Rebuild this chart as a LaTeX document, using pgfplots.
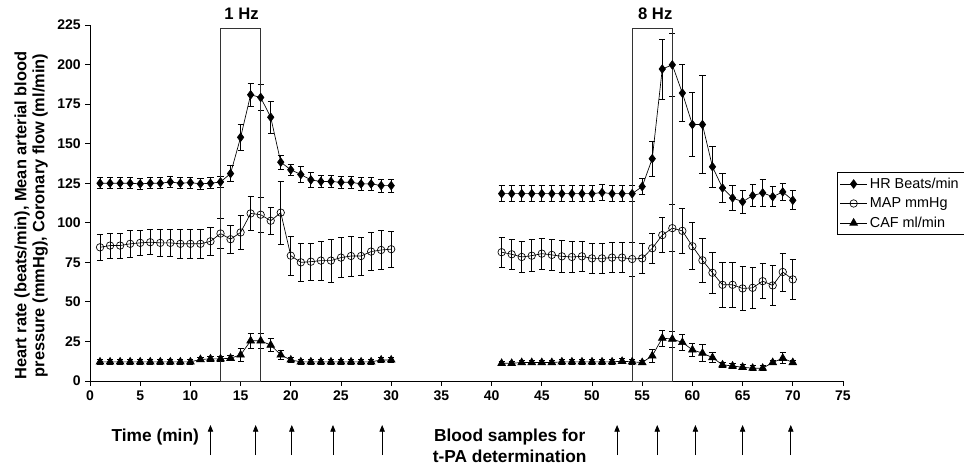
\documentclass[border=0pt]{standalone}
\usepackage{fontspec}
\setmainfont{Liberation Sans}
\usepackage{pgfplots}
\usepackage{pgfplotstable}
\pgfplotsset{compat=1.18}
\usetikzlibrary{arrows.meta}

% x, HR (beats/min), MAP (mmHg), CAF (ml/min), each with its error
\pgfplotstableread{
x  hr    hre  map   mape caf  cafe
1  125.0 3.5  84.5  8.3  12.1 1.5
2  125.0 3.5  85.6  8.0  12.1 1.5
3  125.0 3.5  85.6  8.0  12.1 1.5
4  125.0 3.5  86.7  8.5  12.1 1.5
5  124.6 3.5  87.3  8.0  12.1 1.5
6  125.0 3.5  87.7  8.0  12.1 1.5
7  125.0 3.5  87.3  8.3  12.1 1.5
8  125.8 3.5  87.3  8.8  12.1 1.5
9  125.0 3.5  86.7  9.0  12.1 1.5
10 125.4 3.5  86.7  9.0  12.1 1.5
11 124.6 3.5  86.7  9.0  13.6 1.5
12 125.0 3.5  88.3  8.7  14.0 1.5
13 125.8 3.7  93.2  9.6  14.0 1.5
14 131.1 5.0  89.6  8.8  14.4 1.5
15 154.0 8.0  93.9  11.0 16.5 4.0
16 180.9 7.5  105.9 11.0 25.4 5.0
17 179.2 8.0  105.1 11.0 25.4 5.0
18 166.7 10.0 101.3 8.5  22.7 4.0
19 138.3 4.5  106.4 20.0 16.5 3.0
20 133.5 3.7  79.2  12.5 13.3 1.5
21 130.5 5.0  75.0  12.0 12.1 1.5
22 127.1 5.0  75.4  11.8 12.1 1.5
23 126.1 4.0  76.1  12.3 12.1 1.5
24 126.1 4.0  76.1  13.5 12.1 1.5
25 125.6 4.0  78.0  12.6 12.1 1.5
26 125.6 4.0  79.0  12.7 12.1 1.5
27 124.6 4.0  79.0  12.0 12.1 1.5
28 124.6 4.0  81.8  11.9 12.1 1.5
29 123.5 4.0  82.8  12.5 13.3 1.5
30 123.5 4.0  83.3  11.5 13.3 1.5
35 nan   nan  nan   nan  nan  nan
41 118.4 5.0  81.4  9.3  11.2 1.5
42 118.4 5.0  80.1  9.7  11.2 1.5
43 118.4 5.0  78.4  10.0 11.7 1.5
44 118.4 5.0  79.2  10.0 11.7 1.5
45 118.4 5.0  80.5  9.9  11.7 1.5
46 118.4 5.0  79.7  10.0 11.7 1.5
47 118.4 5.0  78.8  10.0 12.1 1.5
48 118.4 5.0  78.4  10.0 12.1 1.5
49 118.4 5.0  78.8  9.6  12.1 1.5
50 118.4 5.0  77.5  9.6  12.1 1.5
51 119.1 5.0  77.5  9.6  12.1 1.5
52 118.4 5.0  78.0  9.6  12.1 1.5
53 118.4 5.0  78.0  9.6  12.5 1.5
54 118.4 5.0  77.1  10.7 12.1 1.5
55 122.9 5.0  77.5  9.7  11.7 1.5
56 140.5 11.0 83.9  9.4  15.9 4.0
57 197.2 19.0 92.2  11.0 27.1 5.0
58 199.8 20.0 96.6  15.0 26.5 5.0
59 182.0 18.0 94.9  14.5 24.4 5.0
60 162.1 20.0 85.2  14.8 19.7 4.0
61 162.1 31.0 76.3  13.9 17.6 5.5
62 135.4 13.0 68.4  13.0 14.8 3.0
63 122.0 9.0  60.8  14.0 10.2 1.5
64 115.7 8.0  60.8  14.0 9.5  1.5
65 113.3 7.4  58.5  14.0 8.7  1.5
66 117.2 7.0  58.9  13.0 8.1  1.5
67 118.9 8.7  63.1  11.0 8.1  1.5
68 116.5 6.4  60.4  12.4 11.7 1.5
69 119.5 5.4  68.9  12.0 14.4 3.5
70 114.2 6.0  64.2  12.5 11.7 1.5
}\cardio

\begin{document}
\begin{tikzpicture}
\begin{axis}[
  at={(0pt,0pt)}, anchor=south west,
  scale only axis, width=564.75pt, height=267pt,
  xmin=0, xmax=75, ymin=0, ymax=225,
  xtick={0,5,...,75}, ytick={0,25,...,225},
  axis x line=bottom, axis y line=left,
  axis line style={-, line width=0.6pt},
  tick align=outside, major tick length=3.5pt,
  tick style={black, line width=0.6pt},
  ticklabel style={font=\fontsize{10.5}{12}\selectfont\bfseries},
  /pgf/number format/assume math mode=true,
  clip=false, unbounded coords=jump,
  ylabel={Heart rate (beats/min), Mean arterial blood\\pressure (mmHg), Coronary flow (ml/min)},
  ylabel style={at={(axis description cs:-0.078,0.465)}, anchor=center,
    align=center, font=\fontsize{12.3}{13.5}\selectfont\bfseries},
  error bars/error bar style={line width=0.6pt, black},
  error bars/error mark options={rotate=90, mark size=2.3pt, line width=0.6pt, black},
  legend style={at={(axis description cs:0.992,0.587)}, anchor=north west,
    draw=black, line width=0.6pt, font=\fontsize{10.8}{12}\selectfont,
    row sep=1.5pt, inner sep=2pt},
  legend cell align=left,
  legend image code/.code={\draw[mark repeat=2, mark phase=2]
    plot coordinates {(0cm,0cm) (0.35cm,0cm) (0.7cm,0cm)};},
]
\addplot[black, line width=0.5pt, mark=diamond*, mark size=3.2pt,
  mark options={solid, fill=black, draw=black},
  error bars/.cd, y dir=both, y explicit]
  table[x=x, y=hr, y error=hre] {\cardio};
\addplot[black, line width=0.5pt, mark=o, mark size=2.8pt,
  mark options={solid, fill=white, draw=black},
  error bars/.cd, y dir=both, y explicit]
  table[x=x, y=map, y error=mape] {\cardio};
\addplot[black, line width=0.5pt, mark=triangle*, mark size=3.3pt,
  mark options={solid, fill=black, draw=black},
  error bars/.cd, y dir=both, y explicit]
  table[x=x, y=caf, y error=cafe] {\cardio};
\legend{HR Beats/min, MAP mmHg, CAF ml/min}

% stimulation windows
\draw[line width=0.6pt, black!80] (axis cs:13,0) rectangle (axis cs:17,223);
\draw[line width=0.6pt, black!80] (axis cs:54,0) rectangle (axis cs:58,223);
\node[font=\fontsize{12.5}{14}\selectfont\bfseries] at (axis cs:15.1,232) {1 Hz};
\node[font=\fontsize{12.5}{14}\selectfont\bfseries] at (axis cs:56.3,232) {8 Hz};

% blood sampling times
\pgfplotsinvokeforeach{12,16.5,20.1,24.2,29.1,52.5,56.5,60.3,65.0,69.8}{
  \draw[-{Triangle[length=5pt,width=4pt]}, line width=0.6pt]
    (axis cs:#1,-46.8) -- (axis cs:#1,-27.8);
}
\node[font=\fontsize{13}{15}\selectfont\bfseries] at (axis cs:6.5,-35.4) {Time (min)};
\node[font=\fontsize{13}{15}\selectfont\bfseries] at (axis cs:41.8,-35.4) {Blood samples for};
\node[font=\fontsize{13}{15}\selectfont\bfseries] at (axis cs:41.8,-47.4) {t-PA determination};
\end{axis}
\pgfresetboundingbox
\path (-67.5pt,-62.25pt) rectangle (655.5pt,285.75pt);
\end{tikzpicture}
\end{document}
